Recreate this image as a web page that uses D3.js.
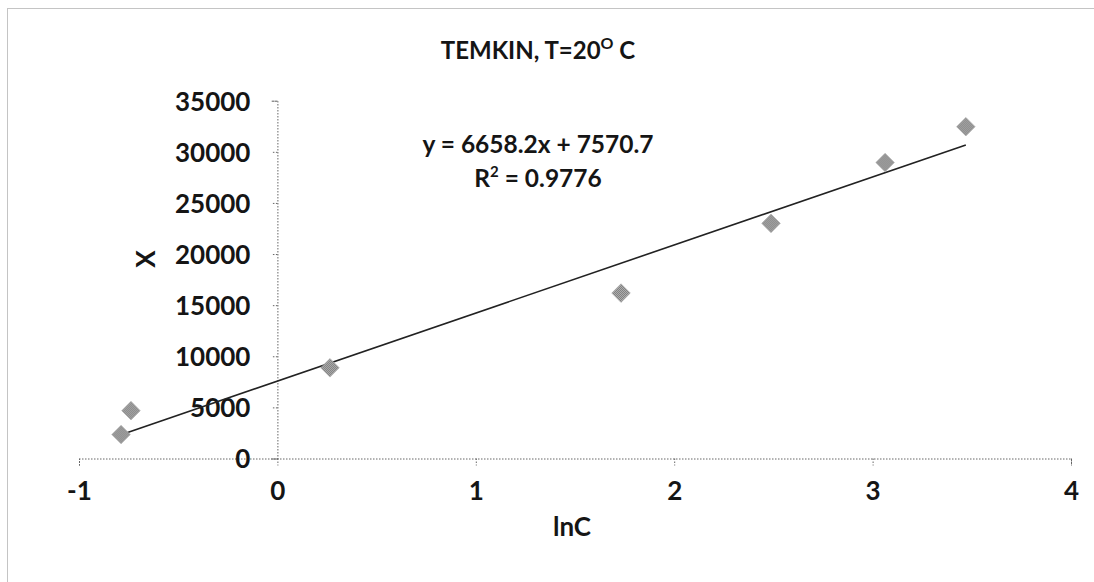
<!DOCTYPE html>
<html>
<head>
<meta charset="utf-8">
<script src="https://cdn.jsdelivr.net/npm/d3@7/dist/d3.min.js"></script>
<style>
  html, body { margin: 0; padding: 0; background: #fff; }
  svg { display: block; }
  text { font-family: Lato, "Open Sans", sans-serif; font-weight: bold; fill: #151515; }
</style>
</head>
<body>
<svg id="chart" width="1094" height="582"></svg>
<script>
// Temkin isotherm at 20 °C: X against ln C
const lnC = [-0.788, -0.738, 0.265, 1.732, 2.488, 3.063, 3.470];
const X   = [2340, 4680, 8870, 16180, 23000, 28950, 32460];
const xTicks = [-1, 0, 1, 2, 3, 4];
const yTicks = [0, 5000, 10000, 15000, 20000, 25000, 30000, 35000];
const slope = 6658.2, intercept = 7570.7, r2 = 0.9776;

const svg = d3.select("#chart");
const W = 1094, H = 582;

// dotted chart-area frame
svg.append("rect")
  .attr("x", 7.5).attr("y", 8.5).attr("width", W + 20).attr("height", H + 20)
  .attr("fill", "none").attr("stroke", "#888").attr("stroke-width", 1)
  .attr("stroke-dasharray", "1,1");

const x = d3.scaleLinear().domain([-1, 4]).range([79, 1071]);
const y = d3.scaleLinear().domain([0, 35000]).range([458.5, 100.7]);

// texture for the markers
const defs = svg.append("defs");
const pat = defs.append("pattern").attr("id", "dots")
  .attr("width", 2).attr("height", 2).attr("patternUnits", "userSpaceOnUse");
pat.append("rect").attr("width", 2).attr("height", 2).attr("fill", "#b4b4b4");
pat.append("rect").attr("width", 1).attr("height", 1).attr("fill", "#7a7a7a");
pat.append("rect").attr("x", 1).attr("y", 1).attr("width", 1).attr("height", 1).attr("fill", "#7a7a7a");

// axes
const xAxis = d3.axisBottom(x).tickValues(xTicks).tickSize(7).tickFormat(d3.format("d"));
const gx = svg.append("g").attr("transform", `translate(0,${y(0)})`).call(xAxis);
gx.select(".domain").attr("stroke", "#666").attr("stroke-dasharray", "1.5,1.5");
gx.selectAll(".tick line").attr("stroke", "#666").attr("stroke-dasharray", "1.5,1.5");
gx.selectAll(".tick text").attr("font-size", 26).attr("y", 10).attr("dy", "1.2em")
  .attr("fill", "#151515")
  .text(d => d < 0 ? "-" + Math.abs(d) : d);

const yAxis = d3.axisLeft(y).tickValues(yTicks).tickSize(6).tickFormat(d3.format("d"));
const gy = svg.append("g").attr("transform", `translate(${x(0)},0)`).call(yAxis);
gy.select(".domain").attr("stroke", "#666").attr("stroke-dasharray", "1.5,1.5");
gy.selectAll(".tick line").attr("stroke", "#666").attr("stroke-dasharray", "1.5,1.5");
gy.selectAll(".tick text").attr("font-size", 26).attr("x", -27).attr("dy", "0.36em")
  .attr("fill", "#151515");

// fitted line across the data range
const xr = d3.extent(lnC);
svg.append("line")
  .attr("x1", x(xr[0])).attr("y1", y(slope * xr[0] + intercept))
  .attr("x2", x(xr[1])).attr("y2", y(slope * xr[1] + intercept))
  .attr("stroke", "#222").attr("stroke-width", 1.6);

// diamond markers
const diamond = d3.symbol().type(d3.symbolDiamond2).size(220);
svg.append("g").selectAll("path").data(lnC).join("path")
  .attr("d", diamond)
  .attr("transform", (d, i) => `translate(${x(d)},${y(X[i])})`)
  .attr("fill", "url(#dots)").attr("stroke", "#aaa").attr("stroke-width", 0.6);

// title
const title = svg.append("text").attr("x", 538).attr("y", 59)
  .attr("text-anchor", "middle").attr("font-size", 24);
title.append("tspan").text("TEMKIN, T=20");
title.append("tspan").attr("font-size", 16).attr("dy", -10).text("O");
title.append("tspan").attr("dy", 10).text(" C");

// regression label
svg.append("text").attr("x", 538).attr("y", 153).attr("text-anchor", "middle")
  .attr("font-size", 24.5)
  .text(`y = ${slope}x + ${intercept}`);
const r = svg.append("text").attr("x", 538).attr("y", 187).attr("text-anchor", "middle")
  .attr("font-size", 24.5);
r.append("tspan").text("R");
r.append("tspan").attr("font-size", 15).attr("dy", -10).text("2");
r.append("tspan").attr("dy", 10).text(` = ${r2}`);

// axis titles
svg.append("text").attr("transform", "translate(155,259) rotate(-90)")
  .attr("text-anchor", "middle").attr("font-size", 26).text("X");
svg.append("text").attr("x", 572).attr("y", 536).attr("text-anchor", "middle")
  .attr("font-size", 26).text("lnC");
</script>
</body>
</html>
